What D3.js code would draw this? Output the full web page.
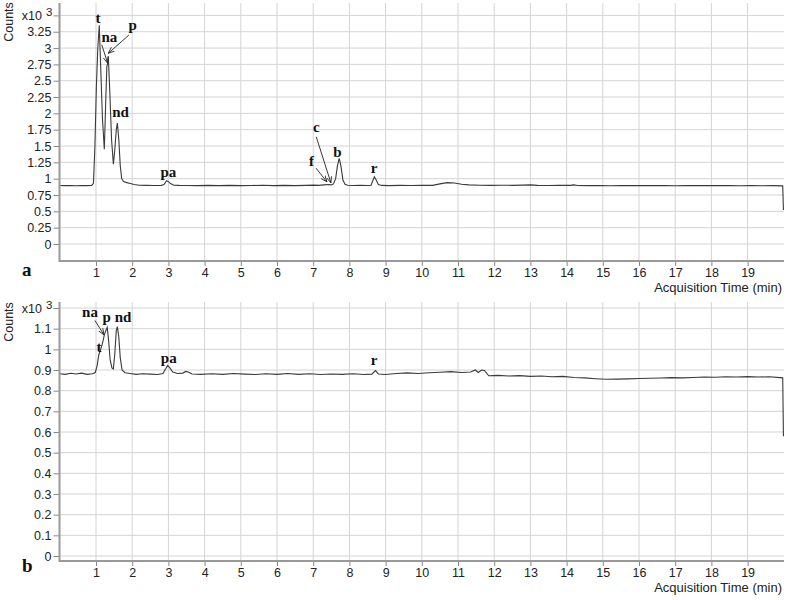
<!DOCTYPE html>
<html><head><meta charset="utf-8">
<script src="https://cdn.jsdelivr.net/npm/d3@7"></script>
<style>
html,body{margin:0;padding:0;background:#fff;}
svg{display:block;}
.tick text{font-family:"Liberation Sans",Arial,sans-serif;font-size:12.5px;fill:#222;}
</style></head>
<body>
<svg id="chart" width="787" height="600"></svg>
<script>
// ---------------- DATA ----------------
const xTicks = [1,2,3,4,5,6,7,8,9,10,11,12,13,14,15,16,17,18,19];
const yTicksTop = [0,0.25,0.5,0.75,1,1.25,1.5,1.75,2,2.25,2.5,2.75,3,3.25];
const yTicksBottom = [0,0.1,0.2,0.3,0.4,0.5,0.6,0.7,0.8,0.9,1,1.1];
const expTickTop = 3.5;
const expTickBottom = 1.2;

// chromatogram a (time min, counts x10^3)
const traceTop = [
[0,0.895],[0.15,0.893],[0.3,0.896],[0.45,0.892],[0.6,0.895],[0.75,0.893],[0.88,0.897],
[0.93,0.93],[0.97,1.5],[1.01,2.4],[1.05,3.0],[1.09,3.35],[1.13,2.7],[1.18,1.9],[1.23,1.45],
[1.27,2.2],[1.3,2.72],[1.32,2.76],[1.34,2.87],[1.38,2.35],[1.43,1.6],[1.48,1.22],[1.52,1.45],
[1.56,1.75],[1.59,1.85],[1.63,1.6],[1.67,1.2],[1.71,1.0],[1.76,0.955],[1.85,0.94],[1.95,0.925],
[2.05,0.91],[2.2,0.9],[2.4,0.897],[2.6,0.895],[2.8,0.898],[2.88,0.91],[2.95,0.97],[3.0,0.955],
[3.06,0.925],[3.15,0.9],[3.3,0.897],[3.5,0.896],[3.8,0.893],[4.1,0.897],[4.4,0.894],[4.7,0.898],
[5.0,0.893],[5.3,0.896],[5.6,0.899],[5.9,0.894],[6.2,0.897],[6.5,0.893],[6.8,0.898],[7.0,0.902],
[7.15,0.897],[7.3,0.905],[7.42,0.91],[7.5,0.905],[7.56,0.92],[7.62,1.0],[7.67,1.2],[7.72,1.31],
[7.77,1.18],[7.82,0.98],[7.88,0.915],[7.95,0.9],[8.1,0.895],[8.3,0.898],[8.5,0.895],[8.6,0.9],
[8.64,0.96],[8.69,1.03],[8.74,0.98],[8.8,0.91],[8.9,0.897],[9.1,0.894],[9.4,0.898],[9.7,0.895],
[10.0,0.9],[10.3,0.897],[10.5,0.92],[10.7,0.94],[10.9,0.935],[11.1,0.915],[11.3,0.905],[11.6,0.9],
[11.9,0.897],[12.2,0.9],[12.5,0.898],[12.8,0.902],[13.0,0.905],[13.2,0.898],[13.5,0.895],[13.8,0.9],
[14.1,0.897],[14.2,0.905],[14.3,0.896],[14.6,0.894],[14.9,0.896],[15.2,0.892],[15.5,0.895],
[15.8,0.893],[16.1,0.896],[16.4,0.893],[16.7,0.895],[17.0,0.892],[17.3,0.895],[17.6,0.893],
[17.9,0.896],[18.2,0.893],[18.5,0.895],[18.8,0.892],[19.1,0.894],[19.4,0.891],[19.7,0.893],
[19.97,0.89],[19.99,0.52]
];

// chromatogram b
const traceBottom = [
[0,0.882],[0.15,0.879],[0.3,0.884],[0.45,0.881],[0.6,0.885],[0.75,0.879],[0.9,0.882],[0.98,0.888],
[1.03,0.92],[1.08,0.975],[1.13,1.0],[1.18,1.03],[1.23,1.07],[1.27,1.09],[1.31,1.106],[1.35,1.04],
[1.39,0.95],[1.44,0.91],[1.48,0.905],[1.52,0.98],[1.56,1.09],[1.59,1.11],[1.63,1.06],[1.67,0.96],
[1.72,0.9],[1.8,0.887],[1.95,0.883],[2.1,0.879],[2.3,0.882],[2.5,0.88],[2.7,0.878],[2.85,0.883],
[2.92,0.905],[2.98,0.922],[3.04,0.91],[3.12,0.89],[3.25,0.883],[3.4,0.885],[3.48,0.893],[3.55,0.89],
[3.65,0.881],[3.9,0.879],[4.2,0.882],[4.5,0.879],[4.8,0.883],[5.1,0.88],[5.4,0.878],[5.7,0.882],
[6.0,0.879],[6.3,0.883],[6.6,0.879],[6.9,0.882],[7.2,0.878],[7.5,0.881],[7.8,0.879],[8.1,0.882],
[8.4,0.878],[8.62,0.88],[8.72,0.897],[8.8,0.881],[9.0,0.878],[9.3,0.883],[9.6,0.886],[9.9,0.883],
[10.2,0.887],[10.5,0.889],[10.8,0.892],[11.1,0.888],[11.35,0.89],[11.48,0.9],[11.56,0.888],
[11.65,0.9],[11.73,0.898],[11.85,0.872],[12.1,0.874],[12.4,0.871],[12.7,0.873],[13.0,0.869],
[13.3,0.871],[13.6,0.867],[13.9,0.869],[14.2,0.864],[14.5,0.862],[14.8,0.858],[15.1,0.855],
[15.4,0.856],[15.7,0.857],[16.0,0.859],[16.3,0.86],[16.6,0.861],[16.9,0.863],[17.2,0.862],
[17.5,0.864],[17.8,0.866],[18.1,0.865],[18.4,0.867],[18.7,0.866],[19.0,0.868],[19.3,0.866],
[19.6,0.867],[19.9,0.863],[19.97,0.862],[19.99,0.58]
];

// peak labels: [label, time, counts]
const labelsTop = [["t",1.055,3.39],["na",1.37,3.09],["p",2.01,3.28],["nd",1.68,1.945],
  ["pa",3.0,1.02],["c",7.09,1.715],["f",6.95,1.19],["b",7.67,1.33],["r",8.68,1.087]];
// arrows: [t0,v0,t1,v1]
const arrowsTop = [[1.16,3.05,1.32,2.77],[1.91,3.2,1.34,2.92],[7.085,1.64,7.49,0.934],[7.08,1.16,7.38,0.95]];
const labelsBottom = [["na",0.834,1.156],["p",1.295,1.13],["nd",1.746,1.133],["t",1.08,0.988],
  ["pa",3.01,0.932],["r",8.68,0.924]];
const arrowsBottom = [[0.97,1.14,1.22,1.07]];

// ---------------- DRAW ----------------
const svg = d3.select("#chart");
const defs = svg.append("defs");
defs.append("marker").attr("id","ah").attr("viewBox","0 0 10 10").attr("refX",10).attr("refY",5)
  .attr("markerWidth",7).attr("markerHeight",7).attr("orient","auto")
  .append("path").attr("d","M0,1 L10,5 L0,9").attr("fill","none").attr("stroke","#222").attr("stroke-width",1.3);

function panel(cfg){
  const g = svg.append("g");
  const x = d3.scaleLinear().domain([0,20]).range([59.8,783.8]);
  const y = d3.scaleLinear().domain([0,cfg.expTick]).range([cfg.y0,cfg.yExp]);
  const allTicks = cfg.yTicks.concat([cfg.expTick]);
  // gridlines
  g.append("g").selectAll("line").data(allTicks).join("line")
    .attr("x1",60).attr("x2",784).attr("y1",d=>y(d)).attr("y2",d=>y(d))
    .attr("stroke","#d4d4d4").attr("stroke-width",1);
  g.append("g").selectAll("line").data(xTicks).join("line")
    .attr("x1",d=>x(d)).attr("x2",d=>x(d)).attr("y1",cfg.top).attr("y2",cfg.axisY)
    .attr("stroke","#d4d4d4").attr("stroke-width",1);
  // trace
  g.append("path").datum(cfg.trace)
    .attr("d",d3.line().x(d=>x(d[0])).y(d=>y(d[1])))
    .attr("fill","none").attr("stroke","#3a3a3a").attr("stroke-width",1.1);
  // y axis
  const ya = g.append("g").attr("transform","translate(59.5,0)")
    .call(d3.axisLeft(y).tickValues(allTicks).tickSize(6).tickPadding(2)
      .tickFormat(d=> d===cfg.expTick ? "" : String(d)));
  ya.select(".domain").remove();
  ya.selectAll(".tick line").attr("stroke","#888");
  // exponent label
  g.append("text").attr("x",42).attr("y",y(cfg.expTick)+4.5).attr("text-anchor","end")
    .style("font-family","Liberation Sans, Arial, sans-serif").style("font-size","12.5px").attr("fill","#222").text("x10");
  g.append("text").attr("x",46).attr("y",y(cfg.expTick)+1).attr("text-anchor","start")
    .style("font-family","Liberation Sans, Arial, sans-serif").style("font-size","11.5px").attr("fill","#222").text("3");
  // x axis
  const xa = g.append("g").attr("transform",`translate(0,${cfg.axisY})`)
    .call(d3.axisBottom(x).tickValues(xTicks).tickSize(5).tickFormat(d=>String(d)));
  xa.select(".domain").remove();
  xa.selectAll(".tick line").attr("stroke","#888");
  xa.selectAll(".tick text").attr("y",16).attr("dy",0);
  // axis lines
  g.append("line").attr("x1",59.5).attr("x2",59.5).attr("y1",cfg.top).attr("y2",cfg.axisY+1)
    .attr("stroke","#999").attr("stroke-width",2);
  g.append("line").attr("x1",59).attr("x2",784).attr("y1",cfg.axisY).attr("y2",cfg.axisY)
    .attr("stroke","#999").attr("stroke-width",2);
  // axis titles
  g.append("text").attr("transform",`translate(13,${cfg.countsY}) rotate(-90)`).attr("text-anchor","middle")
    .style("font-family","Liberation Sans, Arial, sans-serif").style("font-size","12.5px").attr("fill","#222").text("Counts");
  g.append("text").attr("x",782).attr("y",cfg.axisY+31).attr("text-anchor","end")
    .style("font-family","Liberation Sans, Arial, sans-serif").style("font-size","13px").attr("fill","#222").text("Acquisition Time (min)");
  g.append("text").attr("x",22).attr("y",cfg.axisY+cfg.letterDy)
    .style("font-family","Liberation Serif, Times New Roman, serif").style("font-weight","bold").style("font-size","19px")
    .attr("fill","#111").text(cfg.letter);
  // peak labels
  g.append("g").selectAll("text").data(cfg.labels).join("text")
    .attr("x",d=>x(d[1])).attr("y",d=>y(d[2])).attr("text-anchor","middle")
    .style("font-family","Liberation Serif, Times New Roman, serif").style("font-weight","bold").style("font-size","15px")
    .attr("fill","#111").text(d=>d[0]);
  g.append("g").selectAll("line").data(cfg.arrows).join("line")
    .attr("x1",d=>x(d[0])).attr("y1",d=>y(d[1])).attr("x2",d=>x(d[2])).attr("y2",d=>y(d[3]))
    .attr("stroke","#222").attr("stroke-width",0.9).attr("marker-end","url(#ah)");
}

panel({trace:traceTop, yTicks:yTicksTop, expTick:expTickTop, y0:244, yExp:15.4, top:3, axisY:261,
  countsY:22, labels:labelsTop, arrows:arrowsTop, letter:"a", letterDy:15});
panel({trace:traceBottom, yTicks:yTicksBottom, expTick:expTickBottom, y0:556, yExp:308, top:302, axisY:561,
  countsY:322, labels:labelsBottom, arrows:arrowsBottom, letter:"b", letterDy:11});
</script>
</body></html>
